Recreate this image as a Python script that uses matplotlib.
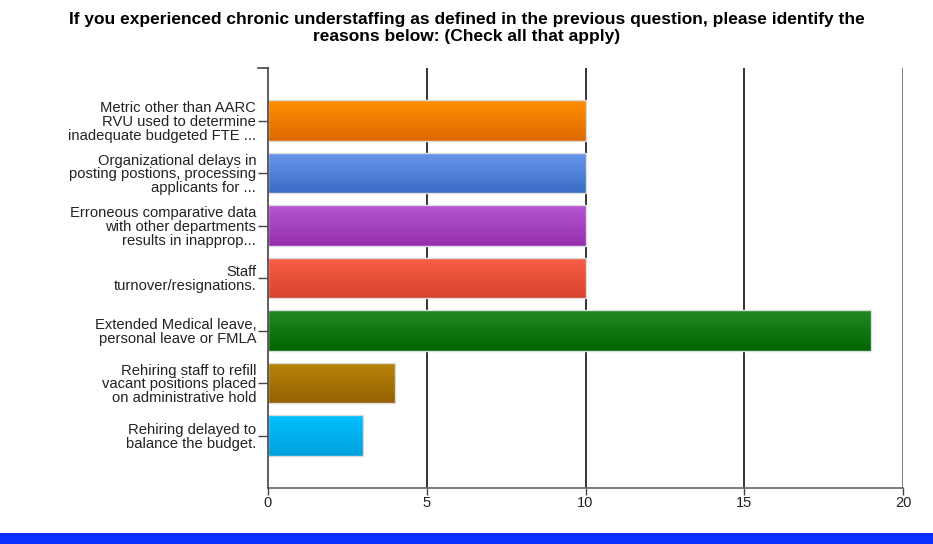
import matplotlib.pyplot as plt
import matplotlib.patches as mpatches
from matplotlib.colors import LinearSegmentedColormap
import numpy as np

plt.rcParams['font.family'] = ['Liberation Sans', 'DejaVu Sans']

# Survey answers and how many respondents picked each one
reasons = [
    "Metric other than AARC\nRVU used to determine\ninadequate budgeted FTE ...",
    "Organizational delays in\nposting postions, processing\napplicants for ...",
    "Erroneous comparative data\nwith other departments\nresults in inapprop...",
    "Staff\nturnover/resignations.",
    "Extended Medical leave,\npersonal leave or FMLA",
    "Rehiring staff to refill\nvacant positions placed\non administrative hold",
    "Rehiring delayed to\nbalance the budget.",
]
counts = [10, 10, 10, 10, 19, 4, 3]
# top / bottom shade of each bar gradient
bar_top = ["#ff8e00", "#6797ec", "#b555d2", "#f76045", "#238a23", "#b8860b", "#00c0ff"]
bar_bottom = ["#dd6a00", "#3b6cc6", "#9530ad", "#d8432e", "#016400", "#956000", "#00a2dd"]
xticks = [0, 5, 10, 15, 20]
title = ("If you experienced chronic understaffing as defined in the previous question, "
         "please identify the\nreasons below: (Check all that apply)")

fig = plt.figure(figsize=(9.33, 5.44), dpi=100)
ax = fig.add_axes([268 / 933, 1 - 488 / 544, 635 / 933, 420 / 544])

ax.set_xlim(0, 20)
ax.set_ylim(len(reasons), -1)

for x in xticks[1:]:
    ax.axvline(x, color="#111111" if x < 20 else "#666666", lw=1.2, zorder=1)

grad = np.linspace(0, 1, 64).reshape(-1, 1)
h = 0.78
for i, (v, c0, c1) in enumerate(zip(counts, bar_top, bar_bottom)):
    cmap = LinearSegmentedColormap.from_list("g%d" % i, [c0, c1])
    im = ax.imshow(grad, cmap=cmap, aspect="auto", zorder=2,
                   extent=(0, v, i + h / 2, i - h / 2), interpolation="bilinear")
    rect = mpatches.Rectangle((0, i - h / 2), v, h, facecolor="none",
                              edgecolor="#dcdcdc", lw=1.0, zorder=3)
    ax.add_patch(rect)
    im.set_clip_path(rect)

ax.set_yticks(range(len(reasons)))
ax.set_yticklabels(reasons, fontsize=10.6, color="#222222", linespacing=0.98)
ax.set_xticks(xticks)
ax.set_xticklabels([str(t) for t in xticks], fontsize=10.5, color="#222222")
ax.tick_params(axis="y", length=7, width=1, color="#444444", pad=1.5)
ax.tick_params(axis="x", length=5, width=1, color="#444444", pad=1)

for s in ["top", "right"]:
    ax.spines[s].set_visible(False)
ax.spines["left"].set_color("#444444")
ax.spines["bottom"].set_color("#666666")
ax.spines["left"].set_linewidth(1.2)
ax.spines["bottom"].set_linewidth(1.2)
ax.spines["left"].set_zorder(4)

# short tick marking the top of the value axis
ax.plot([-0.3, 0], [-1, -1], color="#444444", lw=1.2, clip_on=False, zorder=4)

fig.text(0.5, 1 - 28 / 544, title, ha="center", va="center", fontsize=12.5,
         fontweight="bold", linespacing=1.15)

# blue strip across the bottom edge
fig.patches.append(mpatches.Rectangle((0, 0), 1, 11 / 544, transform=fig.transFigure,
                                      facecolor="#0a2eff", edgecolor="none"))

fig.savefig("out.png", dpi=100)
